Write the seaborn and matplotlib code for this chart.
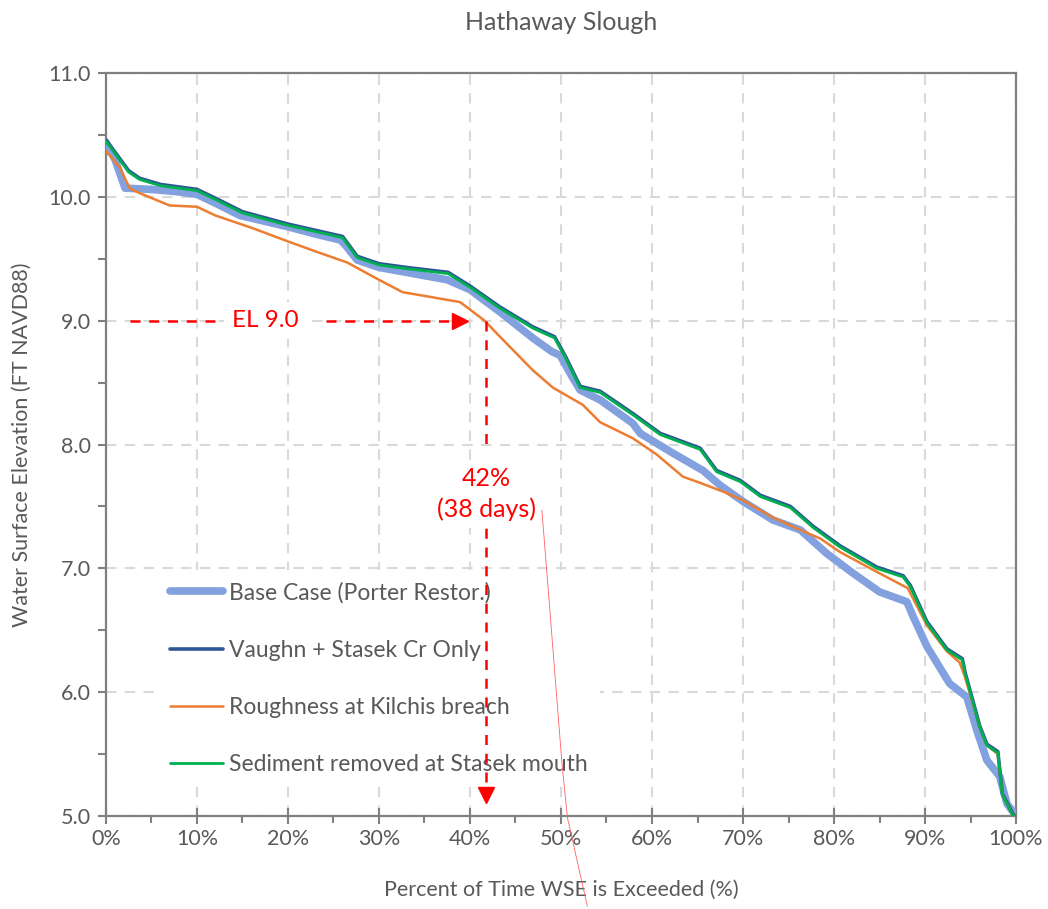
import numpy as np
import pandas as pd
import seaborn as sns
import matplotlib.pyplot as plt
from matplotlib.ticker import MultipleLocator, FuncFormatter

# percent of time exceeded (%) and water surface elevation (ft NAVD88)
base_x = [0, 1.0, 2.1, 5, 8, 10, 12, 14.7, 17, 19.9, 23, 25.8, 26.3, 27.6, 30, 33, 37.5,
          40, 43.3, 46.9, 49.0, 49.9, 51.2, 52.1, 54.3, 57.9, 58.7, 62.3, 65.6, 67.5, 70,
          73.3, 76.3, 79.2, 82.1, 85, 88, 88.7, 90.2, 92.7, 94.6, 95.7, 96.8, 98.2, 99, 100]
base_y = [10.44, 10.30, 10.07, 10.06, 10.04, 10.02, 9.95, 9.85, 9.81, 9.76, 9.70, 9.65, 9.61,
          9.49, 9.43, 9.39, 9.33, 9.25, 9.07, 8.86, 8.75, 8.72, 8.55, 8.44, 8.36, 8.17, 8.09,
          7.93, 7.79, 7.67, 7.54, 7.39, 7.31, 7.12, 6.96, 6.81, 6.73, 6.61, 6.37, 6.07, 5.96,
          5.69, 5.45, 5.32, 5.10, 5.00]

sed_x = [0, 1, 2.5, 3.7, 6, 10, 12, 15, 20, 23, 26, 27.6, 30, 33, 37.6, 40, 43.3, 46.9,
         49.3, 50.5, 52.1, 54.3, 57.9, 60.9, 65.3, 67.1, 69.7, 71.9, 75.2, 77.7, 80.7, 84.7,
         87.6, 88.4, 90.2, 92.4, 94.1, 94.4, 96, 96.8, 98.0, 98.5, 99.7, 100]
sed_y = [10.45, 10.35, 10.20, 10.14, 10.09, 10.05, 9.98, 9.87, 9.77, 9.72, 9.67, 9.51, 9.45,
         9.42, 9.38, 9.27, 9.10, 8.94, 8.86, 8.70, 8.46, 8.42, 8.24, 8.08, 7.96, 7.78, 7.70,
         7.58, 7.49, 7.33, 7.17, 7.00, 6.93, 6.85, 6.56, 6.34, 6.26, 6.15, 5.72, 5.57, 5.51,
         5.17, 5.00, 5.00]

# Vaughn + Stasek run sits right under the sediment run
vaughn_x = list(sed_x)
vaughn_y = [10.46, 10.36, 10.21, 10.15, 10.10, 10.06, 9.99, 9.88, 9.78, 9.73, 9.68, 9.52, 9.46,
            9.43, 9.39, 9.28, 9.11, 8.95, 8.87, 8.71, 8.47, 8.43, 8.25, 8.09, 7.97, 7.79, 7.71,
            7.59, 7.50, 7.34, 7.18, 7.01, 6.94, 6.86, 6.57, 6.35, 6.27, 6.16, 5.73, 5.58, 5.52,
            5.18, 5.01, 5.00]

rough_x = [0, 1.5, 2.6, 3.7, 7, 10, 12, 16, 20, 23, 26.5, 30, 32.6, 35, 38.9, 40, 41.6,
           43.3, 46.9, 49.1, 52.4, 54.3, 57.9, 60.5, 63.4, 65.3, 67.8, 70, 73.3, 76.3, 78.5,
           80.7, 85, 88.1, 90.2, 92.4, 93.8, 94.4, 96, 96.8, 98.0, 98.5, 99.7, 100]
rough_y = [10.37, 10.24, 10.07, 10.03, 9.93, 9.92, 9.85, 9.75, 9.64, 9.56, 9.47, 9.33, 9.23,
           9.20, 9.15, 9.09, 9.00, 8.87, 8.60, 8.46, 8.32, 8.18, 8.05, 7.92, 7.74, 7.69, 7.62,
           7.55, 7.41, 7.31, 7.24, 7.13, 6.96, 6.84, 6.54, 6.33, 6.24, 6.12, 5.72, 5.57, 5.50,
           5.17, 5.00, 5.00]

el_level = 9.0
el_pct = 41.8

sns.set_style("white")
plt.rcParams['font.family'] = ['Lato', 'DejaVu Sans']
grey = '#595959'

fig = plt.figure(figsize=(10.48, 9.09), dpi=100)
ax = fig.add_axes([0.1011, 0.1023, 0.8684, 0.8174])

sns.lineplot(x=base_x, y=base_y, ax=ax, color='#82a1de', lw=5.5,
             label='Base Case (Porter Restor.)', zorder=3)
sns.lineplot(x=vaughn_x, y=vaughn_y, ax=ax, color='#2f5597', lw=2.6,
             label='Vaughn + Stasek Cr Only', zorder=4)
sns.lineplot(x=rough_x, y=rough_y, ax=ax, color='#ed7d31', lw=1.8,
             label='Roughness at Kilchis breach', zorder=5)
sns.lineplot(x=sed_x, y=sed_y, ax=ax, color='#00b050', lw=2.0,
             label='Sediment removed at Stasek mouth', zorder=6)

ax.set_xlim(0, 100)
ax.set_ylim(5, 11)
ax.xaxis.set_major_locator(MultipleLocator(10))
ax.xaxis.set_minor_locator(MultipleLocator(5))
ax.yaxis.set_major_locator(MultipleLocator(1))
ax.yaxis.set_minor_locator(MultipleLocator(0.5))
ax.xaxis.set_major_formatter(FuncFormatter(lambda v, p: '{:.0f}%'.format(v)))
ax.yaxis.set_major_formatter(FuncFormatter(lambda v, p: '{:.1f}'.format(v)))
ax.tick_params(axis='x', which='major', direction='inout', length=11, width=1.5,
               color='#808080', labelsize=15.5, labelcolor=grey, pad=4, bottom=True)
ax.tick_params(axis='x', which='minor', direction='out', length=5, width=1.5,
               color='#808080', bottom=True)
ax.tick_params(axis='y', which='both', direction='out', length=6, width=1.5,
               color='#808080', labelsize=15.5, labelcolor=grey, pad=5, left=True)
for s in ax.spines.values():
    s.set_color('#808080')
    s.set_linewidth(1.6)
ax.grid(True, which='major', color='#d9d9d9', lw=1.5, linestyle=(0, (5, 4)))
ax.set_axisbelow(True)

ax.set_title('Hathaway Slough', fontsize=18, color=grey, pad=31)
ax.set_xlabel('Percent of Time WSE is Exceeded (%)', fontsize=15.5, color=grey, labelpad=22)
ax.set_ylabel('Water Surface Elevation (FT NAVD88)', fontsize=15.5, color=grey, labelpad=12)

leg = ax.legend(loc='upper left', bbox_to_anchor=(0.045, 0.346), fontsize=16.5,
                frameon=True, framealpha=1, facecolor='white', edgecolor='none',
                handlelength=2.3, handletextpad=0.3, labelspacing=1.58,
                borderpad=0.5, fancybox=False)
for t in leg.get_texts():
    t.set_color(grey)
leg.set_zorder(7)

# EL 9.0 annotation
red = '#ff0000'
dash = (0, (4, 3.5))
ax.plot([2.6, 12.0], [el_level, el_level], color=red, lw=1.8, linestyle=dash, zorder=8)
ax.plot([24.2, 38.0], [el_level, el_level], color=red, lw=1.8, linestyle=dash, zorder=8)
ax.plot([38.9], [el_level], marker='>', color=red, ms=11, zorder=8)
ax.text(17.5, el_level, 'EL 9.0', color=red, fontsize=17.5, ha='center', va='center',
        bbox=dict(facecolor='white', edgecolor='none', pad=6), zorder=9)

ax.plot([el_pct, el_pct], [el_level, 8.0], color=red, lw=1.8, linestyle=dash, zorder=8)
ax.text(el_pct, 7.6, '42%\n(38 days)', color=red, fontsize=18, ha='center', va='center',
        linespacing=1.35, bbox=dict(facecolor='white', edgecolor='none', pad=5), zorder=9)
ax.plot([el_pct, el_pct], [7.78, 5.25], color=red, lw=1.8, linestyle=dash, zorder=8)
ax.plot([el_pct], [5.17], marker='v', color=red, ms=11, zorder=8)

# stray thin red stroke
ax.plot([47.9, 48.8, 50.1, 50.7, 52.9], [7.47, 6.64, 5.43, 4.99, 4.27], color='#ff6060',
        lw=0.6, clip_on=False, zorder=10)

fig.savefig('out.png', dpi=100)
